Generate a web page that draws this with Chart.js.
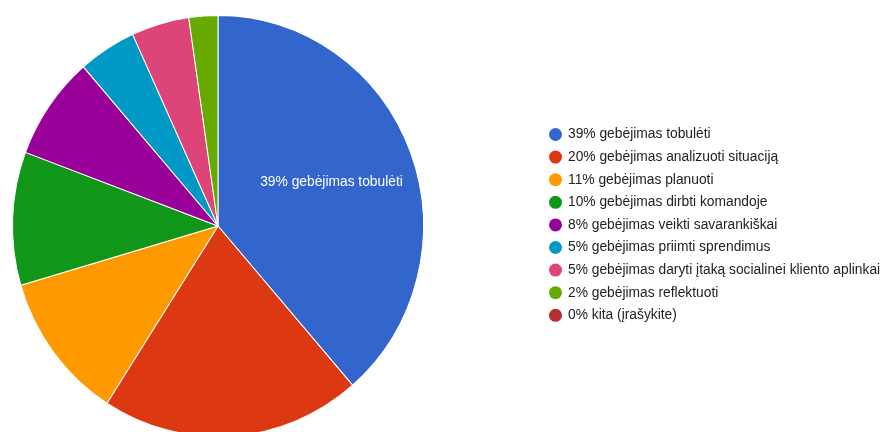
<!DOCTYPE html>
<html>
<head>
<meta charset="utf-8">
<script src="https://cdn.jsdelivr.net/npm/chart.js@4"></script>
<style>
  html, body { margin: 0; padding: 0; background: #fff; overflow: hidden; }
  #wrap { position: relative; width: 887px; height: 440px; }
</style>
</head>
<body>
<div id="wrap"><canvas id="pie"></canvas></div>
<script>
// answers (counts, total 88)
const labels = [
    `gebėjimas tobulėti`,
    `gebėjimas analizuoti situaciją`,
    `gebėjimas planuoti`,
    `gebėjimas dirbti komandoje`,
    `gebėjimas veikti savarankiškai`,
    `gebėjimas priimti sprendimus`,
    `gebėjimas daryti įtaką socialinei kliento aplinkai`,
    `gebėjimas reflektuoti`,
    `kita (įrašykite)`
]
const counts = [34, 18, 10, 9, 7, 4, 4, 2, 0]
const percents = [`39%`, `20%`, `11%`, `10%`, `8%`, `5%`, `5%`, `2%`, `0%`]
const colors = [`#3366cc`, `#dc3912`, `#ff9900`, `#109618`, `#990099`, `#0099c6`, `#dd4477`, `#66aa00`, `#b82e2e`]

const FONT = `13.8px "Liberation Sans", Arial, sans-serif`
const STRETCH = 1.025 // the source picture is a bit taller than wide

const stretch = {
    id: `stretch`,
    beforeDatasetsDraw(chart) {
        const arc = chart.getDatasetMeta(0).data[0]
        const ctx = chart.ctx
        ctx.save()
        ctx.translate(arc.x, arc.y)
        ctx.scale(1, STRETCH)
        ctx.translate(-arc.x, -arc.y)
    },
    afterDatasetsDraw(chart) {
        chart.ctx.restore()
    }
}

// label inside the big slice + legend on the right
const extras = {
    id: `extras`,
    afterDraw(chart) {
        const ctx = chart.ctx
        const meta = chart.getDatasetMeta(0)
        ctx.save()
        ctx.font = FONT
        ctx.textBaseline = `middle`

        // slice label, only for the first (large) slice
        const arc = meta.data[0]
        const p = arc.getProps([`x`, `y`, `startAngle`, `endAngle`, `outerRadius`])
        const mid = (p.startAngle + p.endAngle) / 2
        const r = p.outerRadius * 0.6
        ctx.fillStyle = `#ffffff`
        ctx.textAlign = `center`
        ctx.fillText(`${percents[0]} ${labels[0]}`, p.x + Math.cos(mid) * r - 2, p.y + Math.sin(mid) * r * STRETCH)

        // legend
        ctx.textAlign = `left`
        for (let i = 0; i < labels.length; i++) {
            const y = 134.5 + i * 22.6
            ctx.beginPath()
            ctx.arc(555.5, y, 6.5, 0, Math.PI * 2)
            ctx.fillStyle = colors[i]
            ctx.fill()
            ctx.fillStyle = `#222222`
            ctx.fillText(`${percents[i]} ${labels[i]}`, 568, y)
        }
        ctx.restore()
    }
}

new Chart(document.getElementById(`pie`), {
    type: `pie`,
    data: {
        labels: labels,
        datasets: [{
            data: counts,
            backgroundColor: colors,
            borderColor: `#ffffff`,
            borderWidth: 1
        }]
    },
    options: {
        responsive: true,
        maintainAspectRatio: false,
        animation: false,
        layout: { padding: { left: 12, top: 20, right: 463, bottom: 8 } },
        plugins: {
            legend: { display: false },
            tooltip: { enabled: false }
        }
    },
    plugins: [stretch, extras]
})
</script>
</body>
</html>
